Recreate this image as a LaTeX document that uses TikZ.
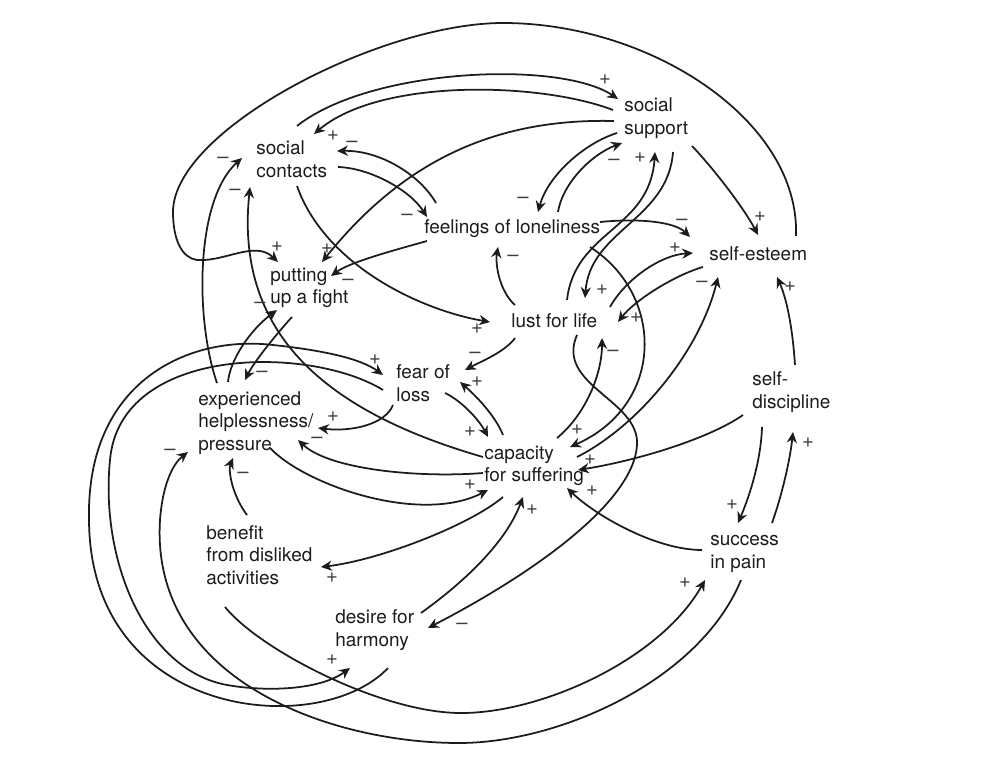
\documentclass[tikz,border=0pt]{standalone}
\usepackage{fontspec}
\setmainfont{TeX Gyre Heros}
\usetikzlibrary{arrows.meta}
\definecolor{ink}{HTML}{1C1C1C}
\begin{document}
\begin{tikzpicture}
[x=0.02cm,y=-0.02cm,>={Stealth[length=6.2pt,width=5.8pt]},
 var/.style={anchor=west,inner sep=0pt,align=left,text=ink,font=\fontsize{10.8}{12.8}\selectfont},
 link/.style={draw=ink,line width=1pt,->},
 sgn/.style={inner sep=0pt,text=ink!85,font=\fontsize{11.5}{11.5}\selectfont}]

\path[use as bounding box] (0,0) rectangle (1000,760);

% the variables
\node[var] (SC) at (256,159) {social\\contacts};
\node[var] (SS) at (624,118) {social\\support};
\node[var] (FL) at (424,229) {feelings of loneliness};
\node[var] (SE) at (709,254) {self-esteem};
\node[var] (PF) at (270,288) {putting\\up a fight};
\node[var] (LL) at (511,321) {lust for life};
\node[var] (FO) at (396,383) {fear of\\loss};
\node[var] (EH) at (198,423) {experienced\\helplessness/\\pressure};
\node[var] (SD) at (752,392) {self-\\discipline};
\node[var] (CS) at (484,466) {capacity\\for suffering};
\node[var] (BD) at (206,555) {benefit\\from disliked\\activities};
\node[var] (SP) at (710,554) {success\\in pain};
\node[var] (DH) at (335,630) {desire for\\harmony};

% the bends of the long loops
\coordinate (w1) at (503,23);
\coordinate (w2) at (173,212);
\coordinate (w3) at (197,260);
\coordinate (w4) at (637,445);
\coordinate (w5) at (110,460);
\coordinate (w6) at (227,685);
\coordinate (w7) at (89,520);
\coordinate (w8) at (273,345);
\coordinate (w9) at (459,743);
\coordinate (w10) at (160,520);
\coordinate (w11) at (459,713);

% the links at the top
\draw[link] ([shift={(41,-33)}]SC.west) .. controls +(73,-58) and +(-58,-39) .. ([shift={(-6,-19)}]SS.west) node[sgn,shift={(-13,-19)}] (s1) {+};
\draw[link] ([shift={(-11,-8)}]SS.west) .. controls +(-73,-28) and +(66,-56) .. ([shift={(58,-25)}]SC.west) node[sgn,shift={(19,2)}] (s2) {+};
\draw[link] ([shift={(-10,3)}]SS.west) .. controls +(-124,-3) and +(78,-97) .. ([shift={(52,-26)}]PF.west) node[sgn,shift={(5,-13)}] (s3) {+};
\draw[link] ([shift={(87,-18)}]SE.west) .. controls +(4,-116) and +(147,0) .. (w1)
  .. controls +(-123,0) and +(0,-82) .. (w2)
  .. controls +(0,28) and +(-15,-2) .. (w3)
  .. controls +(28,2) and +(-23,-22) .. ([shift={(8,-26)}]PF.west) node[sgn,shift={(-1,-15)}] (s4) {+};
\draw[link] ([shift={(82,8)}]SC.west) .. controls +(32,1) and +(-17,-27) .. ([shift={(3,-12)}]FL.west) node[sgn,shift={(-20,0)}] (s5) {–};
\draw[link] ([shift={(12,-26)}]FL.west) .. controls +(-16,-28) and +(43,-1) .. ([shift={(81,-8)}]SC.west) node[sgn,shift={(15,-7)}] (s6) {–};
\draw[link] ([shift={(41,27)}]SC.west) .. controls +(28,79) and +(-70,-12) .. ([shift={(-21,1)}]LL.west) node[sgn,shift={(-13,7)}] (s7) {+};
\draw[link] ([shift={(3,12)}]FL.west) .. controls +(-32,9) and +(19,-14) .. ([shift={(61,-12)}]PF.west) node[sgn,shift={(17,6)}] (s8) {–};
\draw[link] ([shift={(68,28)}]SS.west) .. controls +(23,24) and +(-13,-25) .. ([shift={(49,-19)}]SE.west) node[sgn,shift={(2,-18)}] (s9) {+};
\draw[link] ([shift={(-7,15)}]SS.west) .. controls +(-32,10) and +(10,-37) .. ([shift={(114,-17)}]FL.west) node[sgn,shift={(-15,-12)}] (s10) {–};
\draw[link] ([shift={(134,-17)}]FL.west) .. controls +(4,-27) and +(-32,12) .. ([shift={(-2,25)}]SS.west) node[sgn,shift={(-8,19)}] (s11) {–};
\draw[link] ([shift={(56,-21)}]LL.west) .. controls +(8,-70) and +(-5,78) .. ([shift={(31,34)}]SS.west) node[sgn,shift={(-15,6)}] (s12) {+};
\draw[link] ([shift={(49,34)}]SS.west) .. controls +(-5,68) and +(5,-68) .. ([shift={(74,-23)}]LL.west) node[sgn,shift={(17,-8)}] (s13) {+};
\draw[link] ([shift={(176,-7)}]FL.west) .. controls +(40,-4) and +(-15,-15) .. ([shift={(-19,-17)}]SE.west) node[sgn,shift={(-8,-15)}] (s14) {–};
\draw[link] ([shift={(99,-14)}]LL.west) .. controls +(15,-27) and +(-33,2) .. ([shift={(-16,-1)}]SE.west) node[sgn,shift={(-18,-5)}] (s15) {+};
\draw[link] ([shift={(-6,13)}]SE.west) .. controls +(-28,8) and +(17,-22) .. ([shift={(107,1)}]LL.west) node[sgn,shift={(18,-4)}] (s16) {+};
\draw[link] ([shift={(4,-16)}]LL.west) .. controls +(-15,-13) and +(-3,18) .. ([shift={(74,18)}]FL.west) node[sgn,shift={(15,11)}] (s17) {–};

% the links in the middle
\draw[link] ([shift={(93,-9)}]CS.west) .. controls +(63,-32) and +(-18,73) .. ([shift={(9,23)}]SE.west) node[sgn,shift={(-16,7)}] (s18) {–};
\draw[link] ([shift={(43,-27)}]SD.west) .. controls +(-3,-45) and +(8,18) .. ([shift={(68,23)}]SE.west) node[sgn,shift={(13,10)}] (s19) {+};
\draw[link] ([shift={(73,-28)}]CS.west) .. controls +(28,-23) and +(0,37) .. ([shift={(91,17)}]LL.west) node[sgn,shift={(11,15)}] (s20) {–};
\draw[link] ([shift={(66,14)}]LL.west) .. controls +(-22,50) and +(3,-45) .. (w4)
  .. controls +(-3,55) and +(112,-58) .. ([shift={(93,-2)}]DH.west) node[sgn,shift={(34,-2)}] (s21) {–};
\draw[link] ([shift={(166,18)}]FL.west) .. controls +(75,48) and +(95,-42) .. ([shift={(86,-19)}]CS.west) node[sgn,shift={(7,-17)}] (s22) {+};
\draw[link] ([shift={(-9,23)}]SD.west) .. controls +(-33,23) and +(62,-10) .. ([shift={(94,4)}]CS.west) node[sgn,shift={(12,-10)}] (s23) {+};
\draw[link] ([shift={(-8,-4)}]SP.west) .. controls +(-47,0) and +(28,27) .. ([shift={(83,22)}]CS.west) node[sgn,shift={(25,3)}] (s24) {+};
\draw[link] ([shift={(10,35)}]SD.west) .. controls +(-1,33) and +(12,-28) .. ([shift={(28,-31)}]SP.west) node[sgn,shift={(-6,-18)}] (s25) {+};
\draw[link] ([shift={(62,-31)}]SP.west) .. controls +(10,-28) and +(-3,28) .. ([shift={(41,40)}]SD.west) node[sgn,shift={(15,11)}] (s26) {+};
\draw[link] ([shift={(19,-31)}]CS.west) .. controls +(-8,-20) and +(15,13) .. ([shift={(64,-1)}]FO.west) node[sgn,shift={(17,0)}] (s27) {+};
\draw[link] ([shift={(49,10)}]FO.west) .. controls +(15,7) and +(-10,-19) .. ([shift={(4,-29)}]CS.west) node[sgn,shift={(-18,-5)}] (s28) {+};
\draw[link] ([shift={(4,17)}]LL.west) .. controls +(-10,14) and +(15,-8) .. ([shift={(69,-13)}]FO.west) node[sgn,shift={(10,-15)}] (s29) {–};
\draw[link] ([shift={(-3,22)}]FO.west) .. controls +(-8,20) and +(32,4) .. ([shift={(120,5)}]EH.west) node[sgn,shift={(15,-11)}] (s30) {+};
\draw[link] ([shift={(-1,7)}]CS.west) .. controls +(-63,5) and +(32,30) .. ([shift={(100,17)}]EH.west) node[sgn,shift={(19,0)}] (s31) {–};
\draw[link] ([shift={(72,25)}]EH.west) .. controls +(35,37) and +(-68,35) .. ([shift={(4,24)}]CS.west) node[sgn,shift={(-18,-5)}] (s32) {+};
\draw[link] ([shift={(41,-40)}]BD.west) .. controls +(-15,-20) and +(-5,12) .. ([shift={(35,35)}]EH.west) node[sgn,shift={(10,17)}] (s33) {–};
\draw[link] ([shift={(19,31)}]CS.west) .. controls +(-33,28) and +(59,-7) .. ([shift={(115,12)}]BD.west) node[sgn,shift={(11,11)}] (s34) {+};
\draw[link] ([shift={(86,-17)}]DH.west) .. controls +(39,-28) and +(-18,48) .. ([shift={(39,31)}]CS.west) node[sgn,shift={(9,13)}] (s35) {+};

% the links on the left
\draw[link] ([shift={(19,-40)}]EH.west) .. controls +(-22,-63) and +(-47,42) .. ([shift={(-14,-1)}]SC.west) node[sgn,shift={(-19,2)}] (s36) {–};
\draw[link] ([shift={(-1,-9)}]CS.west) .. controls +(-163,-47) and +(-15,143) .. ([shift={(-6,28)}]SC.west) node[sgn,shift={(-15,5)}] (s37) {–};
\draw[link] ([shift={(30,-41)}]EH.west) .. controls +(2,-22) and +(-27,20) .. ([shift={(7,22)}]PF.west) node[sgn,shift={(-17,-5)}] (s38) {–};
\draw[link] ([shift={(22,29)}]PF.west) .. controls +(-12,13) and +(10,-20) .. ([shift={(47,-43)}]EH.west) node[sgn,shift={(17,-6)}] (s39) {–};

% the long loops round the bottom
\draw[link] ([shift={(-13,7)}]FO.west) .. controls +(-73,-45) and +(10,-115) .. (w5)
  .. controls +(-10,100) and +(-82,-15) .. (w6)
  .. controls +(40,7) and +(-30,22) .. ([shift={(15,38)}]DH.west) node[sgn,shift={(-18,-8)}] (s40) {+};
\draw[link] ([shift={(53,38)}]DH.west) .. controls +(-68,72) and +(1,200) .. (w7)
  .. controls +(-3,-140) and +(-83,-10) .. (w8)
  .. controls +(47,5) and +(-23,-17) .. ([shift={(-13,-8)}]FO.west) node[sgn,shift={(-8,-15)}] (s41) {+};
\draw[link] ([shift={(31,26)}]SP.west) .. controls +(-41,100) and +(101,0) .. (w9)
  .. controls +(-129,0) and +(-10,160) .. (w10)
  .. controls +(3,-40) and +(-13,10) .. ([shift={(-10,29)}]EH.west) node[sgn,shift={(-18,0)}] (s42) {–};
\draw[link] ([shift={(19,52)}]BD.west) .. controls +(35,43) and +(-79,-1) .. (w11)
  .. controls +(81,1) and +(-45,80) .. ([shift={(-5,26)}]SP.west) node[sgn,shift={(-20,3)}] (s43) {+};

\end{tikzpicture}
\end{document}
